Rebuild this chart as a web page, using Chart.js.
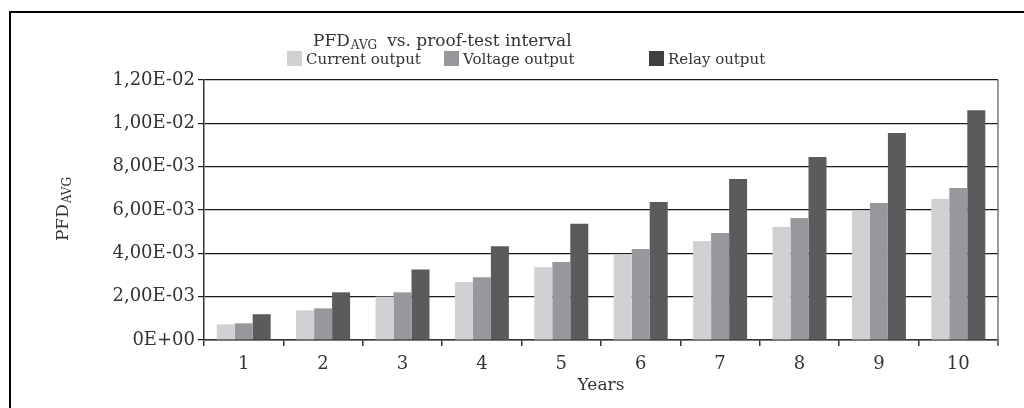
<!DOCTYPE html>
<html>
<head>
<meta charset="utf-8">
<script src="https://cdn.jsdelivr.net/npm/chart.js@4"></script>
<style>
  html, body { margin: 0; padding: 0; background: #fff; }
  #wrap { width: 1024px; height: 408px; position: relative; }
</style>
</head>
<body>
<div id="wrap"><canvas id="chart"></canvas></div>
<script>
// data
const years = ["1", "2", "3", "4", "5", "6", "7", "8", "9", "10"]
const currentOutput = [0.00072, 0.00137, 0.0020, 0.00268, 0.00336, 0.00395, 0.00457, 0.00521, 0.00595, 0.00651]
const voltageOutput = [0.00077, 0.00146, 0.0022, 0.0029, 0.0036, 0.0042, 0.00494, 0.00563, 0.00632, 0.00701]
const relayOutput = [0.00119, 0.0022, 0.00325, 0.00433, 0.00536, 0.00637, 0.00743, 0.00845, 0.00955, 0.0106]
const yTickLabels = ["0E+00", "2,00E-03", "4,00E-03", "6,00E-03", "8,00E-03", "1,00E-02", "1,20E-02"]

const FONT = "'DejaVu Serif', serif"
const TEXT = "#333"

// title, legend, y title and frame are placed by hand to match the original
const decor = {
  id: "decor",
  beforeDraw(chart) {
    const ctx = chart.ctx
    ctx.save()
    ctx.fillStyle = "#000"
    ctx.fillRect(9, 11, 1015, 2)
    ctx.fillRect(9, 11, 2, 397)
    ctx.restore()
  },
  afterDraw(chart) {
    const ctx = chart.ctx
    const area = chart.chartArea
    ctx.save()
    ctx.fillStyle = TEXT
    ctx.textBaseline = "alphabetic"
    ctx.textAlign = "left"

    // title with subscript
    let x = 313
    ctx.font = "17px " + FONT
    ctx.fillText("PFD", x, 46)
    x += ctx.measureText("PFD").width + 1
    ctx.font = "12px " + FONT
    ctx.fillText("AVG", x, 49)
    x += ctx.measureText("AVG").width + 10
    ctx.font = "17px " + FONT
    ctx.fillText("vs. proof-test interval", x, 46)

    // legend
    const legendX = [287, 444, 649]
    ctx.font = "15px " + FONT
    chart.data.datasets.forEach((ds, i) => {
      ctx.fillStyle = ds.legendColor || ds.backgroundColor
      ctx.fillRect(legendX[i], 51, 15, 15)
      ctx.fillStyle = TEXT
      ctx.fillText(ds.label, legendX[i] + 19, 64)
    })

    // y axis title, rotated
    ctx.translate(68, 209)
    ctx.rotate(-Math.PI / 2)
    ctx.font = "17px " + FONT
    const w1 = ctx.measureText("PFD").width
    ctx.font = "12px " + FONT
    const w2 = ctx.measureText("AVG").width
    let sx = -(w1 + w2 + 1) / 2
    ctx.font = "17px " + FONT
    ctx.fillText("PFD", sx, 0)
    ctx.font = "12px " + FONT
    ctx.fillText("AVG", sx + w1 + 1, 3)
    ctx.restore()

    // right border of the plot
    ctx.save()
    ctx.strokeStyle = "#777"
    ctx.lineWidth = 1.5
    ctx.beginPath()
    ctx.moveTo(area.right, area.top)
    ctx.lineTo(area.right, area.bottom + 6)
    ctx.stroke()
    ctx.restore()
  }
}

new Chart(document.getElementById("chart"), {
  type: "bar",
  data: {
    labels: years,
    datasets: [
      { label: "Current output", data: currentOutput, backgroundColor: "#d0d1d3" },
      { label: "Voltage output", data: voltageOutput, backgroundColor: "#97989c" },
      { label: "Relay output", data: relayOutput, backgroundColor: "#5a5b5d", legendColor: "#3d4043" }
    ]
  },
  options: {
    responsive: true,
    maintainAspectRatio: false,
    animation: false,
    datasets: { bar: { categoryPercentage: 0.68, barPercentage: 1.0 } },
    layout: { padding: { top: 80, right: 26, left: 0, bottom: 0 } },
    plugins: {
      legend: { display: false },
      title: { display: false },
      tooltip: { enabled: false }
    },
    scales: {
      x: {
        afterFit(scale) { scale.height = 68 },
        grid: { offset: true, drawOnChartArea: false, drawTicks: true, tickLength: 6, color: "#333", lineWidth: 1.5 },
        border: { color: "#333", width: 1.5 },
        ticks: { color: TEXT, font: { family: FONT, size: 18 }, padding: 8 },
        title: { display: true, text: "Years", color: TEXT, font: { family: FONT, size: 17 }, padding: { top: 0, bottom: 12 } }
      },
      y: {
        min: 0,
        max: 0.012,
        afterFit(scale) { scale.width = 204 },
        grid: { color: "#1a1a1a", lineWidth: 1.2, tickLength: 6 },
        border: { color: "#333", width: 1.5 },
        ticks: {
          stepSize: 0.002,
          color: TEXT,
          font: { family: FONT, size: 18 },
          padding: 3,
          callback: (v, i) => yTickLabels[i]
        }
      }
    }
  },
  plugins: [decor]
})
</script>
</body>
</html>
